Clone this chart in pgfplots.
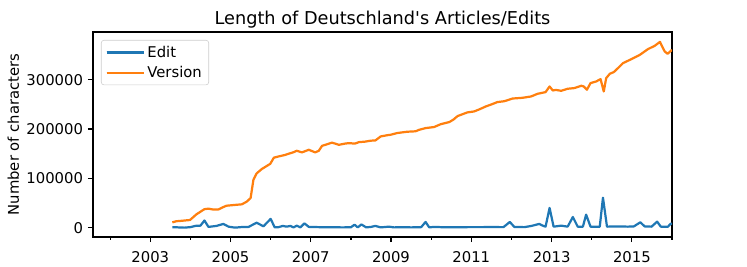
\documentclass[border=0pt]{standalone}
\usepackage{fontspec}
\setmainfont{DejaVu Sans}
\usepackage{pgfplots}
\pgfplotsset{compat=1.18}
\definecolor{tabblue}{HTML}{1F77B4}
\definecolor{taborange}{HTML}{FF7F0E}
\begin{document}
\begin{tikzpicture}
\begin{axis}[
  scale only axis, width=5.79in, height=2.05in,
  xmin=2001.573, xmax=2016.0, ymin=-19000, ymax=397000,
  axis line style={line width=0.85pt},
  xtick={2003,2005,...,2015}, minor xtick={2002,2004,...,2016},
  ytick={0,100000,200000,300000},
  tick align=outside, tick pos=left,
  major tick length=3.7pt, minor tick length=2.1pt,
  every tick/.style={black, line width=0.85pt},
  xticklabel style={/pgf/number format/1000 sep={}, yshift=-3pt},
  yticklabel style={/pgf/number format/fixed,/pgf/number format/1000 sep={}},
  scaled y ticks=false,
  /pgf/number format/assume math mode=true,
  tick label style={font=\fontsize{10.7}{12.8}\selectfont},
  label style={font=\fontsize{10.7}{12.8}\selectfont},
  title style={font=\fontsize{12.8}{15}\selectfont, yshift=-6.5pt},
  title={Length of Deutschland\textquotesingle s Articles/Edits},
  ylabel={Number of characters},
  ylabel shift={-1.5pt},
  legend cell align=left,
  legend style={at={(0.0138,0.961)}, anchor=north west, draw=black!20, rounded corners=2pt,
    fill=white, fill opacity=0.8, text opacity=1, font=\fontsize{10.7}{12.8}\selectfont,
    row sep=1pt, inner xsep=3pt},
  legend image code/.code={\draw[#1] (0cm,0cm) -- (0.30in,0cm); \path (0cm,0cm) -- (0.37in,0cm);},
]
\addplot[tabblue, line width=1.6pt, line join=round] coordinates {
(2003.55,1000) (2003.7,500) (2003.85,0) (2004.0,1000) (2004.15,4000) (2004.25,4000)
(2004.35,14500) (2004.45,1500) (2004.55,2500) (2004.65,3500) (2004.82,7500) (2004.95,2000)
(2005.11,0) (2005.25,1000) (2005.36,1500) (2005.45,1500) (2005.65,10000) (2005.82,2700)
(2006.0,17800) (2006.1,600) (2006.2,1000) (2006.3,3500) (2006.4,2000) (2006.49,3500)
(2006.57,500) (2006.65,4000) (2006.74,500) (2006.84,8700) (2006.95,1500) (2007.2,1000)
(2007.5,800) (2007.8,500) (2008.0,800) (2008.09,6000) (2008.17,500) (2008.26,6500)
(2008.38,500) (2008.5,1500) (2008.61,3500) (2008.74,500) (2008.95,2000) (2009.07,500)
(2009.3,1000) (2009.5,500) (2009.75,1000) (2009.86,11500) (2009.95,500) (2010.07,1500)
(2010.3,800) (2010.6,800) (2010.9,1000) (2011.2,1000) (2011.5,1200) (2011.8,1000)
(2011.96,11500) (2012.07,1500) (2012.32,1000) (2012.5,3500) (2012.69,7500) (2012.78,4000)
(2012.85,2000) (2012.95,40000) (2013.05,2000) (2013.24,4000) (2013.4,2000) (2013.53,21600)
(2013.65,2000) (2013.78,2000) (2013.86,26400) (2013.97,2000) (2014.2,2000) (2014.28,60800)
(2014.38,2000) (2014.65,2500) (2014.9,2000) (2015.05,2500) (2015.21,10800) (2015.32,2500)
(2015.49,2000) (2015.63,12200) (2015.72,2000) (2015.9,2000) (2015.97,8100) (2016.0,8100)
};
\addlegendentry{Edit}
\addplot[taborange, line width=1.6pt, line join=round] coordinates {
(2003.55,10700) (2003.65,13000) (2003.8,14000) (2003.99,15500) (2004.15,27000) (2004.35,37500)
(2004.45,38500) (2004.55,37000) (2004.7,37000) (2004.8,41000) (2004.9,44500) (2005.1,46000)
(2005.28,47300) (2005.4,52500) (2005.5,60000) (2005.57,97000) (2005.65,110000) (2005.78,119000)
(2005.9,125000) (2005.99,129500) (2006.08,142000) (2006.2,144500) (2006.36,147500) (2006.45,150000)
(2006.57,153000) (2006.65,156000) (2006.78,152700) (2006.95,158000) (2007.11,152700) (2007.2,156000)
(2007.28,166000) (2007.4,169000) (2007.53,172500) (2007.7,168000) (2007.85,170500) (2007.95,171500)
(2008.1,170500) (2008.2,173500) (2008.35,174500) (2008.49,176400) (2008.61,177000) (2008.74,185000)
(2008.9,187500) (2008.99,188500) (2009.15,191900) (2009.4,194600) (2009.61,195500) (2009.7,198500)
(2009.86,202000) (2010.07,204100) (2010.24,210000) (2010.45,214200) (2010.55,219000) (2010.66,226500)
(2010.9,233800) (2011.07,235800) (2011.2,240000) (2011.36,245900) (2011.5,250000) (2011.65,254800)
(2011.82,256500) (2012.03,262000) (2012.28,263500) (2012.49,266200) (2012.65,271600) (2012.85,275000)
(2012.95,286500) (2013.03,278300) (2013.1,279500) (2013.24,277700) (2013.4,281800) (2013.57,283200)
(2013.74,287900) (2013.8,286500) (2013.88,279800) (2013.97,293300) (2014.11,296600) (2014.22,301400)
(2014.3,276300) (2014.36,303400) (2014.45,312200) (2014.55,315600) (2014.67,325000) (2014.78,333900)
(2014.99,342000) (2015.2,350700) (2015.4,362200) (2015.57,369000) (2015.7,377000) (2015.77,365000)
(2015.82,357400) (2015.89,352700) (2016.0,360800)
};
\addlegendentry{Version}
\end{axis}
\path ([shift={(-0.93in,-0.30in)}]current axis.south west) rectangle ([shift={(0.75in,0.32in)}]current axis.north east);
\end{tikzpicture}
\end{document}
